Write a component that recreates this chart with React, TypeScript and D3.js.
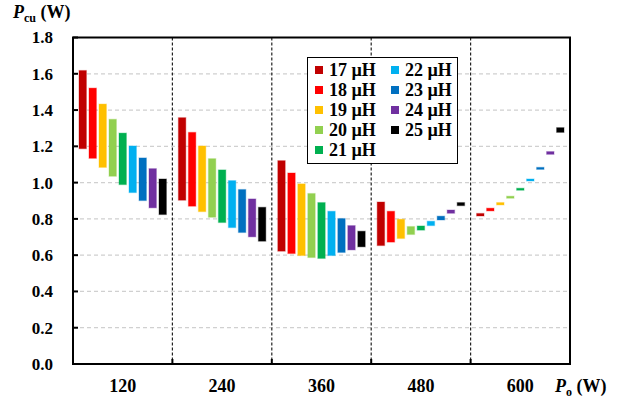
import React from "react";
import * as d3 from "d3";

const categories = ["120", "240", "360", "480", "600"];
const inductances = ["17 µH", "18 µH", "19 µH", "20 µH", "21 µH", "22 µH", "23 µH", "24 µH", "25 µH"];
const colors = ["#C00000", "#FF0000", "#FFC000", "#92D050", "#00B050", "#00B0F0", "#0070C0", "#7030A0", "#000000"];

// [min, max] per inductance, for each output power
const range120 = [[1.187, 1.618], [1.134, 1.521], [1.084, 1.433], [1.035, 1.349], [0.989, 1.273], [0.945, 1.202], [0.901, 1.136], [0.861, 1.077], [0.824, 1.020]];
const range240 = [[0.903, 1.358], [0.870, 1.277], [0.840, 1.202], [0.809, 1.132], [0.780, 1.070], [0.752, 1.011], [0.725, 0.962], [0.701, 0.910], [0.677, 0.864]];
const range360 = [[0.622, 1.121], [0.609, 1.053], [0.598, 0.993], [0.587, 0.940], [0.582, 0.890], [0.598, 0.842], [0.615, 0.802], [0.629, 0.763], [0.646, 0.732]];
const range480 = [[0.653, 0.893], [0.672, 0.842], [0.692, 0.798], [0.714, 0.758], [0.738, 0.761], [0.763, 0.787], [0.794, 0.815], [0.831, 0.849], [0.873, 0.890]];
const range600 = [[0.816, 0.830], [0.844, 0.859], [0.877, 0.890], [0.916, 0.925], [0.958, 0.969], [1.012, 1.020], [1.073, 1.084], [1.156, 1.171], [1.277, 1.303]];
const ranges = [range120, range240, range360, range480, range600];

const yTicks = [0, 0.2, 0.4, 0.6, 0.8, 1.0, 1.2, 1.4, 1.6, 1.8];

const FONT = "'Times New Roman', 'Liberation Serif', serif";

export default function App() {
  const left = 73, right = 570, top = 37.5, bottom = 364;
  const x = d3.scaleBand<string>().domain(categories).range([left, right]).padding(0);
  const xi = d3.scaleBand<string>().domain(inductances).range([0, x.bandwidth()]).paddingInner(0.26).paddingOuter(0.6);
  const y = d3.scaleLinear().domain([0, 1.8]).range([bottom, top]);
  const boundaries = categories.slice(1).map((c) => x(c) as number);

  return (
    <svg width={627} height={401} style={{ position: "absolute", left: 0, top: 0, background: "#fff" }} fontFamily={FONT}>
      {/* horizontal grid */}
      {yTicks.slice(1, -1).map((t) => (
        <line key={"g" + t} x1={left} x2={right} y1={y(t)} y2={y(t)} stroke="#d0d0d0" strokeWidth={1.2} strokeDasharray="4,3" />
      ))}
      {/* vertical separators */}
      {boundaries.map((b, i) => (
        <line key={"v" + i} x1={b} x2={b} y1={top} y2={bottom} stroke="#222" strokeWidth={1.2} strokeDasharray="3,2" />
      ))}
      {/* bars */}
      {categories.map((c, ci) =>
        inductances.map((ind, ii) => {
          const [lo, hi] = ranges[ci][ii];
          const bx = (x(c) as number) + (xi(ind) as number);
          const yTop = y(hi);
          const h = Math.max(y(lo) - y(hi), 2);
          return (
            <rect key={c + ind} x={bx} y={yTop} width={xi.bandwidth()} height={h} fill={colors[ii]} stroke={colors[ii]} strokeOpacity={0.3} strokeWidth={1.2} />
          );
        })
      )}
      {/* frame */}
      <rect x={left} y={top} width={right - left} height={bottom - top} fill="none" stroke="#000" strokeWidth={2} />
      {/* y ticks */}
      {yTicks.map((t) => (
        <g key={"yt" + t}>
          <line x1={left} x2={left + 5} y1={y(t)} y2={y(t)} stroke="#000" strokeWidth={2} />
          <text x={53} y={y(t)} dy="0.35em" textAnchor="end" fontSize={17} fontWeight="bold">
            {d3.format(".1f")(t)}
          </text>
        </g>
      ))}
      {/* x ticks */}
      {boundaries.map((b, i) => (
        <line key={"xt" + i} x1={b} x2={b} y1={bottom} y2={bottom - 5} stroke="#000" strokeWidth={2} />
      ))}
      {categories.map((c) => (
        <text key={"xl" + c} x={(x(c) as number) + x.bandwidth() / 2} y={392} textAnchor="middle" fontSize={18} fontWeight="bold">
          {c}
        </text>
      ))}
      {/* axis titles */}
      <text x={555} y={392} fontSize={18} fontWeight="bold">
        <tspan fontStyle="italic">P</tspan>
        <tspan fontSize={12} dy={4}>o</tspan>
        <tspan dy={-4}> (W)</tspan>
      </text>
      <text x={13} y={18} fontSize={18} fontWeight="bold">
        <tspan fontStyle="italic">P</tspan>
        <tspan fontSize={12} dy={4}>cu</tspan>
        <tspan dy={-4}> (W)</tspan>
      </text>
      {/* legend */}
      <rect x={307.5} y={57.5} width={150} height={106} fill="#fff" stroke="#000" strokeWidth={1} />
      {inductances.map((ind, i) => {
        const col = i < 5 ? 0 : 1;
        const row = i < 5 ? i : i - 5;
        const lx = col === 0 ? 315 : 391;
        const ly = 70 + row * 20;
        return (
          <g key={"lg" + ind}>
            <rect x={lx} y={ly - 4} width={8} height={8} fill={colors[i]} />
            <text x={lx + 14} y={ly} dy="0.35em" fontSize={18} fontWeight="bold">
              {ind}
            </text>
          </g>
        );
      })}
    </svg>
  );
}
